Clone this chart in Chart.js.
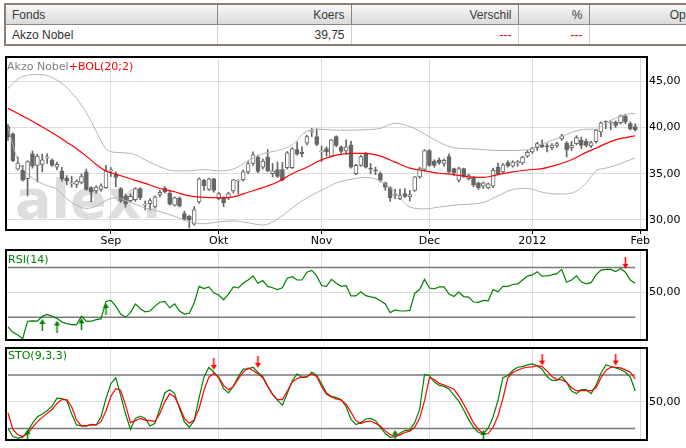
<!DOCTYPE html>
<html>
<head>
<meta charset="utf-8">
<script src="https://cdn.jsdelivr.net/npm/chart.js@4.4.0/dist/chart.umd.min.js"></script>
<style>
  body { margin: 0; width: 686px; height: 448px; overflow: hidden; background: #fff; position: relative; }
  #quote { position: absolute; left: 4px; top: 3px; border-collapse: collapse; table-layout: fixed; width: 701px;
           font: 12px 'Liberation Sans', Arial, sans-serif; border: 2px solid #8a7f77; }
  #quote th, #quote td { height: 19px; padding: 0 6px; white-space: nowrap; overflow: hidden; }
  #quote th { background: linear-gradient(#f7f7f7, #dadada); color: #3a3a3a; font-weight: normal; border: 1px solid #8f857d; }
  #quote td { border: 1px solid #cfcfcf; color: #333; }
  #quote .r { text-align: right; }
  #quote .l { text-align: left; }
  #quote td.neg { color: #e00000; }
  .box { position: absolute; left: 0; z-index: 1; }
  #wm { position: absolute; left: 15px; top: 173px; font: bold 54px 'DejaVu Sans'; line-height: 54px; color: #dedede; z-index: 0; }
  .ttl { position: absolute; font: 11px 'DejaVu Sans'; line-height: 13px; z-index: 3; white-space: nowrap; }
</style>
</head>
<body>
<table id="quote">
  <colgroup><col style="width:212px"><col style="width:134px"><col style="width:167px"><col style="width:71px"><col style="width:117px"></colgroup>
  <tr><th class="l">Fonds</th><th class="r">Koers</th><th class="r">Verschil</th><th class="r">%</th><th class="r">Open</th></tr>
  <tr><td class="l">Akzo Nobel</td><td class="r">39,75</td><td class="r neg">---</td><td class="r neg">---</td><td></td></tr>
</table>

<div id="wm">alex.</div>
<canvas id="mainChart" class="box" style="top:50px" width="686" height="200"></canvas>
<canvas id="rsiChart" class="box" style="top:245px" width="686" height="100"></canvas>
<canvas id="stoChart" class="box" style="top:343px" width="686" height="105"></canvas>

<div class="ttl" style="left:7px; top:60px"><span style="color:#808080">Akzo Nobel</span><span style="color:#ff0000">+BOL(20;2)</span></div>
<div class="ttl" style="left:8px; top:253px; color:#008000">RSI(14)</div>
<div class="ttl" style="left:8px; top:349px; color:#008000">STO(9,3,3)</div>

<script>
// trading days, Aug 3 2011 .. Jan 31 2012 (index 0..128)
const monthIdx = [21, 43, 64, 86, 107, 129];
const monthLabels = ['Sep', 'Okt', 'Nov', 'Dec', '2012', 'Feb'];
const priceTicks = [30, 35, 40, 45];

const open = [
  40.1, 39.3, 35.5, 35.4, 34.45, 37.15, 35.9, 36.0, 36.7, 36.45,
  35.7, 35.3, 34.5, 33.9, 33.85, 34.07, 35.2, 33.5, 33.13, 33.3,
  33.5, 35.3, 34.9, 33.4, 32.6, 32.1, 32.2, 33.4, 31.6, 31.75,
  31.4, 32.7, 33.45, 32.9, 31.6, 32.35, 30.7, 30.4, 29.55, 31.95,
  34.3, 33.3, 34.45, 32.3, 32.4, 32.4, 33.15, 34.2, 34.35, 35.2,
  36.1, 36.8, 35.7, 36.8, 35.0, 35.45, 35.45, 35.65, 35.65, 37.6,
  37.3, 38.3, 39.5, 39.0, 37.35, 37.7, 36.9, 39.0, 37.9, 37.45,
  38.1, 35.0, 35.9, 37.15, 35.55, 35.35, 35.0, 34.0, 33.5, 32.65,
  32.3, 32.85, 32.5, 33.2, 34.65, 35.45, 37.5, 36.35, 36.5, 36.1,
  36.85, 35.55, 34.3, 35.55, 34.45, 34.55, 34.0, 33.65, 33.5, 33.65,
  35.7, 35.2, 36.2, 35.8, 36.2, 36.15, 36.9, 37.35, 37.8, 38.15,
  37.95, 37.8, 38.0, 38.75, 38.3, 37.8, 38.25, 38.6, 38.5, 38.0,
  38.45, 39.5, 40.6, 40.45, 40.55, 40.5, 41.2, 40.4, 40.1
];
const high = [
  40.3, 39.4, 36.8, 35.9, 36.4, 37.45, 37.1, 37.1, 37.15, 36.6,
  36.25, 35.7, 34.8, 34.7, 34.35, 35.0, 35.5, 33.6, 33.7, 33.9,
  35.9, 35.65, 35.2, 33.5, 32.8, 32.8, 33.5, 33.5, 32.05, 32.3,
  32.6, 33.2, 33.6, 33.1, 32.5, 32.5, 30.95, 30.5, 31.45, 34.55,
  34.4, 34.5, 34.5, 33.0, 32.5, 33.0, 34.4, 34.35, 35.4, 36.3,
  37.35, 37.0, 36.6, 37.6, 36.1, 36.25, 36.2, 37.4, 37.8, 38.4,
  37.9, 39.15, 39.9, 39.85, 38.0, 37.9, 38.7, 39.1, 38.0, 38.65,
  38.5, 36.0, 37.0, 37.3, 36.1, 35.7, 35.2, 34.1, 33.6, 33.3,
  33.35, 33.4, 33.2, 34.7, 35.7, 37.6, 37.6, 36.5, 36.7, 36.6,
  37.15, 35.6, 35.7, 35.6, 34.95, 34.7, 34.1, 34.1, 34.0, 35.6,
  36.15, 36.1, 36.4, 36.4, 36.45, 36.9, 37.5, 37.85, 38.4, 38.65,
  38.25, 38.25, 38.4, 39.25, 38.45, 38.5, 39.1, 38.95, 38.75, 38.5,
  39.8, 40.6, 40.7, 40.7, 40.7, 41.35, 41.4, 40.6, 40.4
];
const low = [
  38.6, 36.3, 35.4, 34.2, 32.6, 35.6, 34.1, 35.2, 36.1, 35.8,
  35.4, 34.2, 33.8, 33.55, 33.5, 33.9, 33.2, 31.95, 32.9, 33.1,
  33.4, 34.7, 33.6, 31.9, 31.4, 31.9, 32.0, 32.2, 31.1, 31.05,
  31.3, 32.5, 32.9, 31.6, 31.5, 31.4, 29.95, 29.15, 29.45, 31.8,
  33.2, 33.2, 33.0, 32.2, 31.45, 32.2, 32.9, 32.8, 34.2, 35.0,
  35.9, 35.1, 35.5, 35.2, 34.65, 34.6, 34.2, 35.5, 35.55, 37.0,
  36.8, 38.1, 39.0, 38.0, 36.3, 36.9, 36.8, 37.9, 37.2, 37.1,
  35.6, 34.9, 35.8, 35.6, 35.0, 34.9, 34.1, 33.2, 32.0, 32.3,
  32.2, 32.4, 32.05, 33.1, 34.5, 35.3, 35.8, 35.7, 36.0, 35.8,
  35.1, 34.8, 34.1, 34.6, 34.3, 33.6, 33.3, 33.4, 33.4, 33.5,
  34.9, 35.0, 35.7, 35.7, 35.8, 36.0, 36.75, 37.2, 37.5, 37.8,
  37.35, 37.6, 37.85, 38.6, 36.8, 37.5, 38.1, 37.7, 37.9, 37.8,
  38.3, 39.0, 39.85, 39.75, 40.0, 40.35, 40.4, 39.7, 39.6
];
const close = [
  39.0, 36.4, 36.15, 34.3, 36.3, 35.8, 36.9, 36.5, 36.75, 35.9,
  36.0, 34.4, 34.2, 33.95, 34.2, 34.7, 33.3, 33.0, 33.56, 33.7,
  35.3, 35.35, 34.6, 32.1, 31.7, 32.55, 33.4, 32.4, 31.65, 32.1,
  32.5, 33.0, 33.05, 31.7, 32.4, 31.5, 30.1, 30.0, 31.1, 34.45,
  33.7, 34.45, 33.2, 32.85, 31.85, 32.85, 34.35, 34.3, 35.2, 36.1,
  37.05, 35.25, 36.35, 35.3, 35.3, 34.7, 34.3, 37.25, 37.7, 37.1,
  37.15, 39.0, 39.55, 38.15, 37.4, 37.35, 38.65, 38.05, 37.4, 37.9,
  35.7, 35.9, 36.85, 35.7, 35.5, 35.3, 34.3, 33.55, 32.4, 32.7,
  32.65, 32.55, 32.75, 34.65, 35.55, 37.5, 35.9, 35.9, 36.15, 36.45,
  35.2, 35.1, 35.55, 34.7, 34.8, 33.75, 33.5, 34.0, 33.9, 35.35,
  35.0, 35.95, 35.85, 36.25, 36.25, 36.8, 37.3, 37.7, 38.25, 37.9,
  37.9, 38.1, 38.25, 39.1, 37.6, 38.05, 38.9, 38.05, 38.05, 38.35,
  39.7, 40.5, 40.55, 40.5, 40.2, 41.25, 40.6, 39.85, 39.75
];

// Bollinger (20;2) read at these day indices
const bandIdx = [0, 2, 4, 6, 8, 10, 12, 14, 16, 18, 20, 22, 25, 28, 31, 34, 37, 40, 43, 46,
  49, 52, 55, 58, 61, 64, 67, 70, 73, 76, 79, 82, 85, 88, 91, 94, 97, 100, 103, 106,
  109, 112, 115, 118, 120, 122, 124, 126, 128];
const bandUpper = [44.2, 45.2, 45.65, 45.7, 45.6, 45.1, 44.3, 43.1, 41.6, 39.6, 37.7, 37.3, 37.2, 36.5, 35.75, 35.3, 35.3, 35.45, 35.3, 35.5,
  36.4, 37.15, 37.5, 38.1, 39.6, 39.8, 39.7, 39.7, 39.75, 39.9, 40.45, 40.1, 39.3, 38.4, 37.8, 37.7, 37.6, 37.5, 37.5, 37.6,
  38.2, 38.8, 39.45, 39.8, 39.8, 40.5, 41.0, 41.4, 41.5];
const bandMid = [42.05, 41.5, 40.95, 40.35, 39.75, 39.1, 38.4, 37.7, 36.9, 36.0, 35.3, 34.95, 34.45, 33.95, 33.4, 33.05, 32.6, 32.45, 32.4, 32.5,
  33.0, 33.5, 34.1, 35.0, 35.7, 36.5, 37.0, 37.2, 37.2, 36.9, 36.25, 35.6, 35.3, 35.05, 34.9, 34.65, 34.6, 34.9, 35.2, 35.4,
  35.55, 35.95, 36.5, 37.3, 37.75, 38.25, 38.65, 38.9, 39.1];
const bandLower = [40.0, 36.5, 35.0, 34.2, 33.7, 33.3, 32.3, 31.6, 31.25, 31.5, 32.1, 32.4, 31.9, 31.3, 30.9, 30.4, 29.8, 29.6, 29.8, 29.9,
  29.7, 29.45, 30.1, 31.3, 32.4, 33.2, 34.0, 34.4, 34.6, 34.2, 33.0, 31.4, 31.2, 31.4, 31.6, 31.7, 31.9, 32.6, 33.3, 33.4,
  33.0, 32.8, 32.9, 34.0, 35.3, 35.6, 35.9, 36.3, 36.7];

const rsi = [
  22.3, 18.0, 15.9, 12.8, 26.9, 27.2, 26.9, 30.8, 32.3, 30.8,
  29.2, 26.2, 24.9, 24.1, 24.1, 30.8, 26.7, 26.9, 28.2, 28.7,
  42.8, 43.6, 39.0, 32.6, 30.0, 33.8, 40.8, 36.9, 34.4, 35.1,
  39.0, 42.1, 42.8, 37.7, 40.8, 35.1, 32.6, 33.3, 41.5, 54.9,
  53.1, 54.4, 49.7, 47.9, 44.1, 48.7, 54.4, 53.6, 57.4, 60.0,
  63.3, 57.4, 59.5, 54.9, 53.8, 52.3, 53.8, 61.5, 62.6, 60.0,
  60.0, 66.2, 67.7, 63.3, 55.6, 54.9, 60.5, 57.4, 54.9, 55.4,
  47.2, 47.2, 50.5, 47.4, 46.4, 45.6, 43.3, 40.8, 33.8, 35.9,
  35.1, 35.1, 35.6, 49.2, 52.3, 60.5, 53.6, 52.8, 54.4, 54.4,
  48.7, 46.7, 50.3, 46.7, 46.2, 42.3, 42.1, 43.6, 43.3, 52.3,
  50.5, 54.9, 54.9, 56.4, 56.9, 60.0, 63.1, 64.1, 66.7, 63.1,
  63.3, 64.1, 65.1, 68.5, 58.2, 60.0, 63.3, 58.5, 56.9, 57.9,
  64.1, 67.9, 68.5, 68.5, 66.7, 69.2, 66.2, 60.0, 57.4
];
const rsiLevels = [30, 70];
const rsiBuyIdx = [7, 10, 15, 20];
const rsiBuyVal = [28.7, 27.4, 29.2, 41.5];
const rsiSellIdx = [126];
const rsiSellVal = [69.0];

const stoK = [
  20.2, 10.9, 9.1, 10.2, 16.5, 25.7, 33.1, 36.1, 39.8, 45.0,
  53.9, 53.5, 51.7, 36.1, 23.9, 22.8, 22.8, 24.6, 23.9, 33.1,
  53.5, 70.2, 76.9, 57.2, 36.1, 19.1, 31.3, 33.9, 31.3, 22.8,
  25.7, 42.4, 59.8, 63.5, 59.1, 42.4, 27.6, 21.3, 28.7, 54.6,
  77.6, 88.7, 83.1, 76.9, 64.6, 59.8, 67.2, 78.3, 86.5, 86.9,
  88.7, 83.1, 78.3, 67.2, 58.0, 51.7, 46.1, 59.1, 73.1, 81.3,
  76.9, 77.6, 83.1, 79.4, 70.2, 59.8, 56.1, 54.6, 52.4, 44.3,
  30.2, 24.3, 26.5, 30.6, 31.3, 28.7, 21.3, 14.3, 9.8, 10.9,
  14.6, 17.6, 18.3, 26.5, 41.3, 80.6, 79.1, 72.4, 68.3, 67.2,
  64.3, 57.2, 50.6, 40.6, 30.2, 21.3, 15.4, 14.3, 20.2, 33.1,
  51.7, 76.9, 79.4, 85.0, 88.7, 89.4, 91.3, 92.4, 90.2, 86.5,
  78.3, 73.9, 73.9, 78.3, 71.7, 62.0, 59.1, 63.5, 63.5, 59.1,
  68.3, 82.0, 91.3, 89.8, 88.0, 86.1, 83.1, 77.6, 62.0
];
const stoD = [
  37.6, 19.1, 12.8, 10.9, 13.9, 21.3, 27.6, 32.4, 36.9, 41.3,
  48.0, 52.4, 52.4, 44.3, 29.4, 22.8, 22.8, 23.9, 23.9, 27.6,
  39.8, 56.1, 64.6, 62.8, 46.1, 26.5, 28.7, 31.3, 29.4, 28.7,
  27.6, 36.9, 49.8, 59.1, 55.4, 44.3, 31.3, 25.7, 29.4, 42.4,
  62.8, 77.6, 82.0, 77.6, 68.3, 63.5, 67.2, 75.7, 83.1, 88.0,
  85.0, 81.3, 76.9, 67.2, 58.3, 52.4, 52.4, 62.0, 72.0, 76.1,
  77.6, 78.3, 81.3, 78.3, 67.2, 58.3, 55.4, 53.1, 51.7, 47.2,
  38.3, 28.7, 25.4, 27.6, 28.3, 25.7, 22.4, 17.2, 12.8, 10.9,
  12.8, 15.4, 16.9, 21.3, 31.3, 50.9, 76.9, 75.0, 70.6, 68.7,
  66.5, 63.9, 56.5, 47.2, 36.9, 26.1, 19.1, 13.9, 14.3, 21.3,
  34.3, 53.5, 76.9, 82.8, 85.4, 87.6, 88.7, 89.1, 90.6, 89.4,
  84.3, 78.3, 75.0, 74.6, 71.7, 65.7, 62.4, 62.4, 62.4, 62.4,
  65.7, 76.9, 85.0, 88.7, 88.7, 88.0, 85.7, 83.1, 75.7
];
const stoLevels = [20, 80];
const stoBuyIdx = [4, 79, 97];
const stoBuyVal = [19.1, 18.3, 18.3];
const stoSellIdx = [42, 51, 109, 124];
const stoSellVal = [85.7, 88.0, 90.6, 90.6];

const lastDay = close.length - 1;
const axisFont = { family: 'DejaVu Sans', size: 11 };
const gridColor = '#dcdcdc';

Chart.defaults.font.family = 'DejaVu Sans';
Chart.defaults.font.size = 11;

// black frame round each plot area
const framePlugin = {
    id: 'frame',
    afterDraw(chart) {
        const { ctx, chartArea: a } = chart;
        ctx.save();
        ctx.strokeStyle = '#000';
        ctx.lineWidth = 2;
        ctx.strokeRect(a.left, a.top, a.right - a.left, a.bottom - a.top);
        ctx.restore();
    }
};

function makeArrow(color, up) {
    const c = document.createElement('canvas');
    c.width = 7;
    c.height = 24;
    const g = c.getContext('2d');
    g.fillStyle = color;
    g.beginPath();
    g.moveTo(3.5, 12);
    if (up) { g.lineTo(0.5, 17); g.lineTo(6.5, 17); }
    else { g.lineTo(0.5, 7); g.lineTo(6.5, 7); }
    g.closePath();
    g.fill();
    g.fillRect(2.75, up ? 17 : 0, 1.5, 7);
    return c;
}
const upArrow = makeArrow('#008000', true);
const downArrow = makeArrow('#ff0000', false);

function xScale(showLabels) {
    return {
        type: 'linear',
        min: -0.4,
        max: 130.4,
        offset: false,
        afterBuildTicks: s => { s.ticks = monthIdx.map(v => ({ value: v })); },
        afterFit: s => { s.height = showLabels ? 20 : 0; s.paddingLeft = 0; s.paddingRight = 0; },
        grid: { color: gridColor, offset: false, drawTicks: showLabels, tickLength: 4, tickColor: '#000' },
        border: { display: false },
        ticks: {
            display: showLabels, autoSkip: false, maxRotation: 0, padding: 1, color: '#000', font: axisFont,
            callback: v => monthLabels[monthIdx.indexOf(v)]
        }
    };
}

function yScale(min, max, tickValues) {
    return {
        position: 'right',
        min: min,
        max: max,
        beginAtZero: false,
        afterBuildTicks: s => { s.ticks = tickValues.map(v => ({ value: v })); },
        afterFit: s => { s.width = 39; s.paddingTop = 0; s.paddingBottom = 0; },
        grid: { color: gridColor, drawTicks: false },
        border: { display: false },
        ticks: { padding: 2, color: '#000', font: axisFont, callback: v => v.toFixed(2).replace('.', ',') }
    };
}

function levelLine(value) {
    return {
        type: 'line',
        data: [{ x: 0, y: value }, { x: lastDay, y: value }],
        borderColor: '#7a7a7a', borderWidth: 1.5, pointRadius: 0, order: 5
    };
}

function arrows(idx, vals, img) {
    return {
        type: 'line',
        data: idx.map((x, k) => ({ x: x, y: vals[k] })),
        showLine: false, pointStyle: img, pointRadius: 4, order: 0
    };
}

const common = {
    responsive: false,
    animation: false,
    events: [],
    plugins: { legend: { display: false }, tooltip: { enabled: false } }
};

// price panel: candles + Bollinger bands
new Chart(document.getElementById('mainChart').getContext('2d'), {
    type: 'bar',
    data: {
        datasets: [
            {
                data: high.map((h, i) => ({ x: i, y: [low[i], h] })),
                backgroundColor: '#666', grouped: false, maxBarThickness: 1,
                barPercentage: 1, categoryPercentage: 1, order: 6
            },
            {
                data: open.map((o, i) => ({ x: i, y: [o, close[i]] })),
                backgroundColor: close.map((c, i) => c >= open[i] ? '#ffffff' : '#666666'),
                borderColor: '#666', borderWidth: 1, borderSkipped: false, minBarLength: 1,
                grouped: false, maxBarThickness: 4, barPercentage: 1, categoryPercentage: 1, order: 5
            },
            {
                type: 'line', data: bandIdx.map((x, k) => ({ x: x, y: bandUpper[k] })),
                borderColor: '#b4b4b4', borderWidth: 1, pointRadius: 0, cubicInterpolationMode: 'monotone', order: 3
            },
            {
                type: 'line', data: bandIdx.map((x, k) => ({ x: x, y: bandLower[k] })),
                borderColor: '#b4b4b4', borderWidth: 1, pointRadius: 0, cubicInterpolationMode: 'monotone', order: 3
            },
            {
                type: 'line', data: bandIdx.map((x, k) => ({ x: x, y: bandMid[k] })),
                borderColor: '#ff0000', borderWidth: 1.2, pointRadius: 0, cubicInterpolationMode: 'monotone', order: 1
            }
        ]
    },
    options: {
        ...common,
        layout: { padding: { top: 7, left: 6, right: 0, bottom: 0 } },
        scales: { x: xScale(true), y: yScale(28.92, 47.6, priceTicks) }
    },
    plugins: [framePlugin]
});

// RSI(14)
new Chart(document.getElementById('rsiChart').getContext('2d'), {
    type: 'line',
    data: {
        datasets: [
            levelLine(rsiLevels[0]),
            levelLine(rsiLevels[1]),
            {
                data: rsi.map((v, i) => ({ x: i, y: v })),
                borderColor: '#008000', borderWidth: 1.2, pointRadius: 0, order: 2
            },
            arrows(rsiBuyIdx, rsiBuyVal, upArrow),
            arrows(rsiSellIdx, rsiSellVal, downArrow)
        ]
    },
    options: {
        ...common,
        layout: { padding: { top: 5, left: 6, right: 0, bottom: 2 } },
        scales: { x: xScale(false), y: yScale(11.8, 84.1, [50]) }
    },
    plugins: [framePlugin]
});

// STO(9,3,3)
new Chart(document.getElementById('stoChart').getContext('2d'), {
    type: 'line',
    data: {
        datasets: [
            levelLine(stoLevels[0]),
            levelLine(stoLevels[1]),
            {
                data: stoK.map((v, i) => ({ x: i, y: v })),
                borderColor: '#008000', borderWidth: 1.2, pointRadius: 0, order: 3
            },
            {
                data: stoD.map((v, i) => ({ x: i, y: v })),
                borderColor: '#ff0000', borderWidth: 1.2, pointRadius: 0, order: 2
            },
            arrows(stoBuyIdx, stoBuyVal, upArrow),
            arrows(stoSellIdx, stoSellVal, downArrow)
        ]
    },
    options: {
        ...common,
        layout: { padding: { top: 4, left: 6, right: 0, bottom: 8 } },
        scales: { x: xScale(false), y: yScale(7, 110.3, [50]) }
    },
    plugins: [framePlugin]
});
</script>
</body>
</html>
